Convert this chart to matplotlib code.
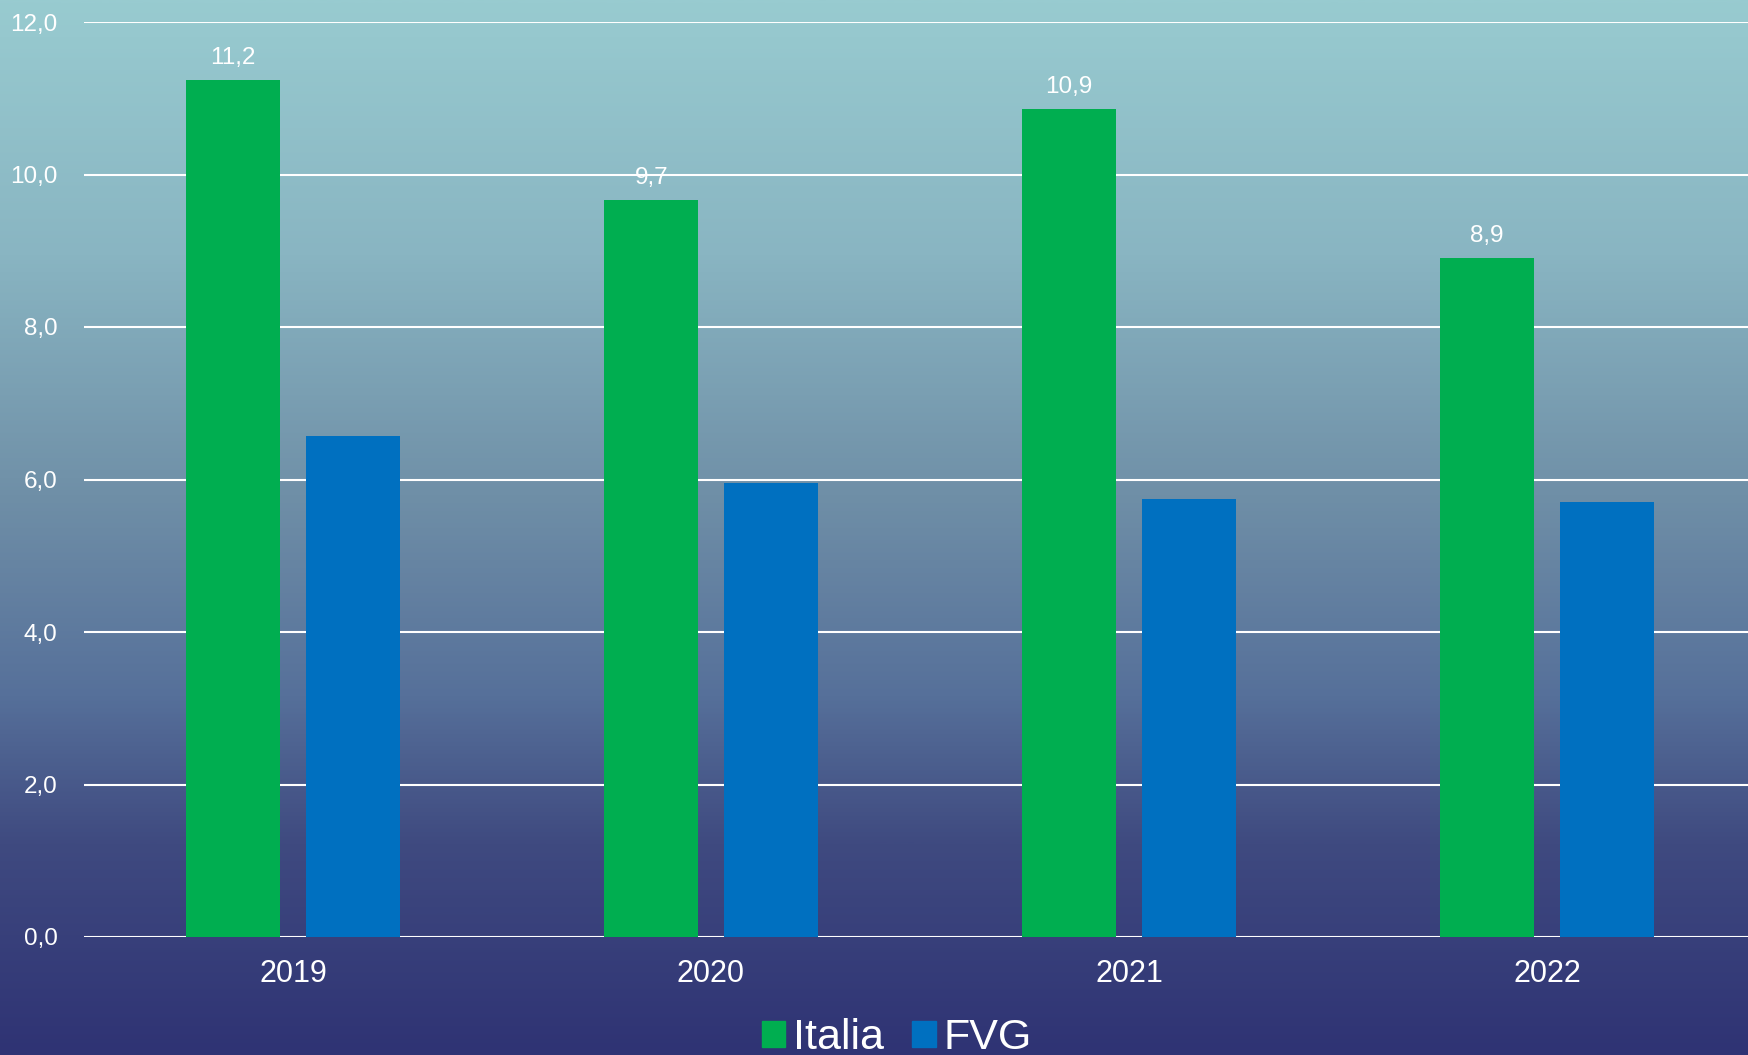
import numpy as np
import matplotlib
matplotlib.use('Agg')
import matplotlib.pyplot as plt
from matplotlib.colors import LinearSegmentedColormap
from matplotlib.patches import Patch

plt.rcParams['font.family'] = ['Liberation Sans', 'DejaVu Sans']

years = ['2019', '2020', '2021', '2022']
italia = [11.24, 9.67, 10.86, 8.90]
fvg = [6.57, 5.96, 5.74, 5.71]
yticks = [0, 2, 4, 6, 8, 10, 12]

green = '#00ae50'
blue = '#0070c0'

fig = plt.figure(figsize=(17.48, 10.55), dpi=100)

# gradient background over the whole figure
bg = fig.add_axes([0, 0, 1, 1], zorder=0)
stops = [(0.0, '#2f3374'), (0.2, '#3f4a80'), (0.34, '#56709a'),
         (0.53, '#6f8fa7'), (0.76, '#89b5c2'), (1.0, '#98cbd0')]
cmap = LinearSegmentedColormap.from_list('bg', stops)
grad = np.linspace(0, 1, 512).reshape(-1, 1)
bg.imshow(grad, aspect='auto', cmap=cmap, origin='lower', extent=[0, 1, 0, 1])
bg.axis('off')

ax = fig.add_axes([84 / 1748, 1 - 937 / 1055, 1672 / 1748, (937 - 22) / 1055], zorder=1)
ax.patch.set_alpha(0)

x = np.arange(len(years))
w = 0.226
b1 = ax.bar(x - 0.143, italia, w, color=green, zorder=3, label='Italia')
b2 = ax.bar(x + 0.143, fvg, w, color=blue, zorder=3, label='FVG')

for rect, v in zip(b1, italia):
    ax.annotate(f'{v:.1f}'.replace('.', ','),
                (rect.get_x() + rect.get_width() / 2, rect.get_height()),
                xytext=(0, 11.5), textcoords='offset points',
                ha='center', va='baseline', color='white', fontsize=17.5)

ax.set_xlim(-0.5, 3.5)
ax.set_ylim(0, 12)
ax.set_yticks(yticks)
ax.set_yticklabels([f'{t:.1f}'.replace('.', ',') for t in yticks])
ax.set_xticks(x)
ax.set_xticklabels(years)
ax.tick_params(axis='y', length=0, pad=19, labelsize=17.5, labelcolor='white')
ax.tick_params(axis='x', length=0, pad=16, labelsize=22, labelcolor='white')
ax.yaxis.grid(True, color='white', linewidth=1.5, zorder=1)
ax.set_axisbelow(True)
for s in ax.spines.values():
    s.set_visible(False)

handles = [Patch(color=green, label='Italia'), Patch(color=blue, label='FVG')]
fig.legend(handles=handles, loc='center', bbox_to_anchor=(0.513, 17 / 1055),
           ncol=2, frameon=False, fontsize=31, labelcolor='white',
           handlelength=0.55, handleheight=0.55, handletextpad=0.18,
           columnspacing=0.65, borderpad=0, borderaxespad=0)

fig.savefig('out.png', dpi=100)
